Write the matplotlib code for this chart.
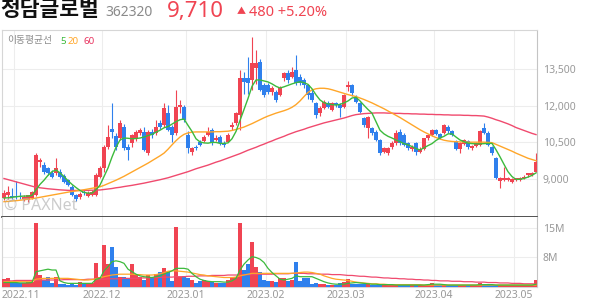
import matplotlib
matplotlib.use("Agg")
import matplotlib.pyplot as plt
import matplotlib.transforms as mtransforms
import numpy as np

plt.rcParams['font.family'] = ['Noto Sans', 'Noto Sans CJK KR', 'DejaVu Sans']

# daily candles (KRW), one trading day per entry, 2022-10-27 .. 2023-05-09
opens = [8210, 8340, 8300, 8300, 8300, 8180, 8140, 8210, 8340, 9710,
         9570, 9440, 9230, 9230, 9300, 9130, 8960, 8680, 8340, 8250,
         8480, 8300, 8340, 8340, 9100, 9440, 10330, 11040, 10750, 10670,
         11140, 10330, 10460, 10670, 10870, 10940, 10050, 10940, 10870, 11280,
         11210, 11700, 11140, 10870, 11960, 11960, 10800, 10120, 10330, 10530,
         10550, 10800, 11000, 10600, 10730, 10460, 10530, 11140, 11280, 11620,
         13130, 13130, 13060, 13540, 13810, 12850, 12850, 12580, 12580, 12440,
         13130, 13330, 13200, 13470, 13200, 13060, 12850, 12510, 12100, 11690,
         11900, 12100, 11830, 12100, 12030, 11960, 12780, 12850, 12370, 12100,
         11490, 11080, 11080, 10940, 10600, 10120, 10050, 10330, 10460, 10940,
         10800, 10460, 10230, 10460, 10120, 10250, 10670, 10800, 11000, 10850,
         10900, 11150, 10950, 10550, 10250, 10450, 10550, 10260, 10360, 10400,
         11100, 10900, 10300, 9850, 8900, 8950, 8960, 8890, 8950, 8960,
         9030, 9160, 9180, 9300]
highs = [8550, 8700, 8650, 8900, 8450, 8350, 8340, 8500, 10050, 9850,
         9700, 9500, 9350, 9850, 9400, 9200, 9000, 8750, 8400, 8450,
         8550, 8500, 8550, 9250, 9550, 10400, 11200, 12100, 10900, 11400,
         11250, 10450, 10850, 11000, 11100, 11150, 11000, 11050, 11420, 11400,
         12100, 12040, 11200, 12650, 12240, 12050, 10950, 10300, 10400, 10600,
         10800, 11140, 11100, 10800, 10800, 10550, 10900, 11350, 11750, 13450,
         13400, 14000, 14810, 14290, 13900, 12950, 12950, 12800, 12650, 12800,
         13400, 13450, 13600, 14080, 13300, 13150, 12900, 12650, 12150, 12000,
         12250, 12200, 12150, 12150, 12100, 12500, 13000, 12900, 12450, 12150,
         11550, 11600, 11150, 11000, 10650, 10300, 10300, 10550, 11000, 11050,
         10870, 10500, 10400, 10500, 10300, 10700, 10850, 11050, 11050, 10900,
         11250, 11200, 11000, 10600, 10500, 10650, 10600, 10400, 10500, 11000,
         11300, 10950, 10350, 9900, 9100, 9500, 9100, 9050, 9050, 9100,
         9150, 9250, 9280, 10060]
lows = [8140, 8200, 8200, 8200, 8200, 8100, 8070, 8180, 8300, 9500,
        9200, 9150, 9050, 9150, 9050, 8850, 8700, 8300, 8100, 8200,
        8350, 8250, 8300, 8300, 9050, 9300, 10250, 10670, 10190, 10600,
        10190, 9780, 10300, 10550, 10800, 10150, 10000, 10700, 10800, 11050,
        11150, 10950, 10500, 10800, 11700, 11350, 10050, 9980, 10200, 10350,
        10500, 10750, 10400, 10550, 10400, 10300, 10500, 11000, 11200, 11000,
        12500, 12500, 12650, 12900, 12600, 12350, 12500, 12450, 12150, 12400,
        13000, 12950, 13150, 12850, 12850, 12750, 12300, 12150, 11500, 11600,
        11850, 11900, 11800, 11950, 11550, 11900, 12600, 12400, 12100, 11700,
        11150, 10700, 10800, 10550, 10000, 10050, 9980, 10250, 10400, 10400,
        10350, 10200, 10150, 9980, 10050, 10200, 10600, 10750, 10800, 10650,
        10850, 10900, 10750, 10200, 10050, 10400, 10250, 10200, 10300, 10350,
        10850, 10350, 10000, 9000, 8620, 8900, 8900, 8850, 8900, 8920,
        9000, 9100, 9120, 9280]
closes = [8440, 8480, 8250, 8250, 8260, 8270, 8340, 8480, 9980, 9780,
          9300, 9230, 9100, 9440, 9100, 8890, 8750, 8340, 8180, 8380,
          8410, 8440, 8480, 9160, 9440, 10330, 10730, 10940, 10330, 11310,
          10260, 10190, 10800, 10940, 11010, 10190, 10940, 10800, 11140, 11140,
          11900, 11010, 10800, 11960, 12030, 11420, 10260, 10260, 10260, 10390,
          10730, 10940, 10460, 10700, 10460, 10400, 10800, 11210, 11690, 13130,
          12990, 12920, 13740, 13740, 12650, 12440, 12580, 12720, 12240, 12720,
          13330, 13060, 13400, 12920, 12920, 12850, 12440, 12240, 11620, 11900,
          12170, 11960, 12100, 12030, 11900, 12440, 12850, 12510, 12170, 11760,
          11210, 11550, 10870, 10600, 10050, 10260, 10260, 10460, 10870, 10460,
          10390, 10260, 10320, 10120, 10250, 10670, 10800, 11000, 10850, 10700,
          11200, 10950, 10800, 10250, 10460, 10600, 10300, 10350, 10460, 10950,
          10900, 10400, 10080, 9030, 9030, 9030, 9030, 9000, 9030, 9030,
          9100, 9230, 9230, 9710]

# moving averages as drawn on the chart
ma5 = [8220, 8230, 8250, 8270, 8290, 8300, 8300, 8330, 8560, 8780,
       8950, 9150, 9300, 9370, 9250, 9100, 8930, 8780, 8650, 8530,
       8450, 8420, 8420, 8560, 8750, 9100, 9450, 9900, 10300, 10600,
       10680, 10670, 10650, 10660, 10680, 10720, 10780, 10830, 10920, 11000,
       11100, 11150, 11250, 11350, 11430, 11460, 11200, 10950, 10650, 10520,
       10480, 10470, 10500, 10500, 10460, 10460, 10480, 10650, 10950, 11400,
       11850, 12300, 12800, 13060, 13060, 13020, 12980, 12900, 12800, 12730,
       12780, 12840, 12900, 12950, 12990, 12950, 12880, 12700, 12450, 12240,
       12130, 12080, 12050, 12030, 12060, 12120, 12200, 12320, 12350, 12200,
       12020, 11850, 11700, 11350, 11000, 10850, 10750, 10680, 10600, 10530,
       10450, 10400, 10330, 10250, 10190, 10280, 10370, 10450, 10580, 10680,
       10750, 10850, 10850, 10720, 10600, 10530, 10470, 10450, 10440, 10440,
       10450, 10460, 10460, 10200, 9910, 9600, 9300, 9100, 8980, 8990,
       9020, 9080, 9150, 9250]
ma20 = [8070, 8080, 8100, 8110, 8130, 8150, 8170, 8190, 8220,
        8250, 8280, 8310, 8340, 8370, 8400, 8430, 8460,
        8490, 8510, 8530, 8560, 8590, 8620, 8650, 8680,
        8740, 8810, 8880, 8950, 9030, 9110, 9200, 9290,
        9380, 9470, 9560, 9650, 9750, 9850, 9950, 10060,
        10220, 10400, 10570, 10720, 10830, 10890, 10920, 10930,
        10930, 10930, 10930, 10930, 10940, 10940, 10950, 10960,
        10990, 11030, 11080, 11130, 11200, 11270, 11350, 11430,
        11510, 11580, 11640, 11700, 11750, 11800, 11860, 11940,
        12050, 12200, 12380, 12550, 12650, 12700, 12720, 12720,
        12700, 12660, 12610, 12560, 12510, 12460, 12420, 12380,
        12320, 12260, 12190, 12120, 12040, 11960, 11880, 11790,
        11700, 11610, 11520, 11420, 11320, 11220, 11120, 11020,
        10930, 10850, 10770, 10700, 10640, 10590, 10560, 10540,
        10530, 10520, 10520, 10510, 10510, 10510, 10510, 10510,
        10500, 10490, 10420, 10350, 10280, 10210, 10140, 10060,
        9990, 9920, 9850, 9800, 9750]
ma60 = [9020, 8975, 8930, 8885, 8840, 8795, 8750, 8705, 8660,
        8640, 8620, 8600, 8585, 8570, 8555, 8545, 8535,
        8530, 8530, 8530, 8530, 8535, 8540, 8545, 8550,
        8570, 8590, 8610, 8640, 8660, 8690, 8715, 8740,
        8770, 8800, 8830, 8865, 8900, 8935, 8970, 9010,
        9050, 9100, 9150, 9200, 9250, 9300, 9360, 9420,
        9470, 9520, 9570, 9630, 9690, 9740, 9800, 9860,
        9920, 9980, 10040, 10110, 10180, 10240, 10300, 10370,
        10430, 10500, 10560, 10630, 10690, 10750, 10820, 10880,
        10940, 10990, 11040, 11100, 11150, 11200, 11250, 11300,
        11340, 11380, 11420, 11460, 11500, 11550, 11600, 11640,
        11660, 11680, 11690, 11700, 11710, 11710, 11710, 11700,
        11700, 11690, 11690, 11680, 11680, 11670, 11670, 11660,
        11660, 11650, 11650, 11640, 11640, 11630, 11630, 11620,
        11620, 11620, 11610, 11610, 11600, 11600, 11590, 11580,
        11540, 11490, 11430, 11380, 11320, 11260, 11190, 11110,
        11050, 10990, 10930, 10870, 10820]

# volume in millions of shares and its moving averages
volume = [2.8, 3.0, 2.2, 1.8, 1.8, 1.8, 2.2, 2.2, 16.2, 3.8,
          2.6, 3.4, 1.8, 3.4, 1.6, 1.6, 1.4, 1.8, 1.4, 2.2,
          1.8, 1.8, 2.0, 6.6, 3.4, 11.0, 6.4, 10.6, 5.8, 3.4,
          3.4, 3.0, 6.4, 3.8, 3.4, 2.6, 3.8, 3.0, 4.0, 4.6,
          5.6, 4.6, 2.4, 15.4, 3.4, 3.6, 3.2, 2.6, 1.8, 2.4,
          2.6, 2.4, 2.2, 2.0, 1.8, 1.8, 2.6, 3.4, 3.4, 16.2,
          5.0, 6.4, 11.8, 5.8, 4.6, 2.6, 2.4, 2.4, 2.2, 3.2,
          3.2, 2.4, 2.6, 7.0, 2.4, 3.0, 3.2, 1.7, 1.9, 1.6,
          1.6, 1.5, 1.5, 1.5, 1.8, 2.2, 2.8, 1.7, 1.7, 1.7,
          1.7, 1.7, 1.5, 1.5, 1.5, 1.5, 1.5, 1.4, 1.3, 1.3,
          1.3, 1.3, 1.3, 1.3, 1.3, 1.3, 1.3, 1.8, 1.3, 1.3,
          1.3, 1.3, 1.3, 1.3, 1.3, 1.3, 1.3, 1.3, 1.3, 1.8,
          1.5, 1.3, 1.3, 1.5, 1.4, 1.3, 1.3, 1.3, 1.3, 1.3,
          1.3, 1.3, 1.3, 2.6]
vol_ma5 = [2.0, 2.0, 2.0, 2.0, 1.9, 1.9, 1.9, 2.0, 4.6, 4.8,
           5.0, 5.2, 5.0, 5.0, 2.4, 2.0, 1.8, 1.8, 1.8, 1.8,
           1.8, 1.8, 1.8, 2.8, 3.0, 4.8, 5.8, 7.0, 7.2, 7.0,
           6.6, 5.2, 4.6, 4.0, 3.6, 3.4, 3.3, 3.2, 3.4, 3.6,
           4.0, 4.4, 4.8, 5.4, 5.4, 5.4, 5.2, 4.2, 3.4, 2.8,
           2.5, 2.3, 2.2, 2.2, 2.2, 2.1, 2.1, 2.4, 3.0, 5.0,
           6.4, 7.4, 8.2, 8.0, 7.6, 6.8, 5.4, 4.4, 3.6, 2.8,
           2.6, 2.8, 3.0, 3.6, 3.4, 3.4, 3.4, 3.4, 3.0, 2.6,
           2.2, 1.9, 1.7, 1.6, 1.6, 1.6, 1.8, 1.9, 2.0, 1.9,
           1.8, 1.7, 1.6, 1.6, 1.5, 1.5, 1.5, 1.5, 1.4, 1.4,
           1.4, 1.4, 1.4, 1.4, 1.4, 1.4, 1.5, 1.6, 1.6, 1.6,
           1.5, 1.4, 1.4, 1.4, 1.4, 1.4, 1.4, 1.4, 1.4, 1.5,
           1.5, 1.5, 1.5, 1.4, 1.4, 1.4, 1.4, 1.4, 1.4, 1.4,
           1.4, 1.4, 1.4, 1.6]
vol_ma20 = [2.2, 2.2, 2.2, 2.2, 2.2, 2.2, 2.2, 2.2, 2.8, 2.9,
            3.0, 3.0, 3.0, 3.0, 3.0, 3.0, 3.0, 2.9, 2.8, 2.7,
            2.6, 2.6, 2.7, 2.9, 3.1, 3.4, 3.6, 3.8, 3.9, 4.0,
            4.0, 4.0, 4.0, 3.9, 3.9, 3.8, 3.8, 3.8, 3.9, 4.1,
            4.4, 4.7, 4.8, 4.8, 4.7, 4.6, 4.5, 4.3, 4.1, 3.9,
            3.8, 3.6, 3.5, 3.4, 3.3, 3.2, 3.2, 3.2, 3.3, 3.6,
            3.8, 4.0, 4.2, 4.2, 4.2, 4.2, 4.2, 4.2, 4.2, 4.2,
            4.2, 4.2, 4.2, 4.3, 4.4, 4.5, 4.5, 4.4, 4.2, 4.0,
            3.6, 3.3, 3.0, 2.8, 2.7, 2.6, 2.5, 2.3, 2.1, 2.0,
            1.9, 1.8, 1.7, 1.7, 1.6, 1.6, 1.5, 1.5, 1.5, 1.5,
            1.5, 1.5, 1.5, 1.5, 1.5, 1.4, 1.4, 1.4, 1.4, 1.4,
            1.4, 1.4, 1.4, 1.4, 1.4, 1.4, 1.4, 1.4, 1.4, 1.4,
            1.4, 1.4, 1.4, 1.4, 1.4, 1.4, 1.4, 1.4, 1.4, 1.4,
            1.4, 1.4, 1.4, 1.4]
vol_ma60 = [2.4, 2.4, 2.4, 2.5, 2.5, 2.5, 2.5, 2.5, 2.5, 2.6,
            2.6, 2.6, 2.6, 2.6, 2.6, 2.7, 2.7, 2.7, 2.7, 2.7,
            2.7, 2.8, 2.8, 2.8, 2.8, 2.8, 2.9, 2.9, 2.9, 2.9,
            3.0, 3.0, 3.0, 3.0, 3.1, 3.1, 3.1, 3.2, 3.2, 3.2,
            3.3, 3.3, 3.3, 3.4, 3.4, 3.4, 3.5, 3.5, 3.5, 3.6,
            3.6, 3.6, 3.7, 3.7, 3.7, 3.7, 3.8, 3.8, 3.8, 3.8,
            3.9, 3.9, 3.9, 3.9, 4.0, 4.0, 4.0, 4.0, 4.1, 4.1,
            4.1, 4.1, 4.2, 4.2, 4.2, 4.2, 4.1, 4.1, 4.1, 4.0,
            4.0, 4.0, 3.9, 3.9, 3.9, 3.8, 3.7, 3.7, 3.6, 3.5,
            3.5, 3.4, 3.3, 3.3, 3.2, 3.1, 3.1, 3.0, 3.0, 2.9,
            2.9, 2.8, 2.8, 2.7, 2.7, 2.6, 2.6, 2.5, 2.5, 2.4,
            2.4, 2.4, 2.3, 2.3, 2.3, 2.2, 2.2, 2.2, 2.1, 2.1,
            2.1, 2.0, 2.0, 2.0, 1.9, 1.9, 1.9, 1.8, 1.8, 1.8,
            1.7, 1.7, 1.7, 1.65]

month_labels = ['2022.11', '2022.12', '2023.01', '2023.02', '2023.03', '2023.04', '2023.05']
month_first_day = [3, 25, 46, 66, 86, 108, 128]
price_ticks = [9000, 10500, 12000, 13500]
volume_ticks = [8, 15]

RED = '#f04452'
BLUE = '#2f80ed'
C5, C20, C60 = '#3cba3c', '#ffa629', '#f04a6e'
GRID = '#ededed'
LABEL = '#999999'

o = np.array(opens)
h = np.array(highs)
l = np.array(lows)
c = np.array(closes)
days = np.arange(len(c))
colors = np.where(c >= o, RED, BLUE)
month_pos = np.array(month_first_day) - 0.5

W, H = 594, 304
fig = plt.figure(figsize=(W / 100, H / 100), dpi=100)
ax = fig.add_axes([2 / W, 1 - 217 / H, 535 / W, 187 / H])
axv = fig.add_axes([2 / W, 1 - 287 / H, 535 / W, 70 / H], sharex=ax)

# price panel
ax.vlines(days, l, h, colors=colors, linewidth=0.8, zorder=2)
body = np.maximum(np.abs(c - o), 30)
ax.bar(days, body, bottom=np.minimum(o, c), width=0.8, color=colors, linewidth=0, zorder=3)
ax.plot(days, ma60, color=C60, lw=1.0, zorder=4)
ax.plot(days, ma20, color=C20, lw=1.0, zorder=4)
ax.plot(days, ma5, color=C5, lw=1.0, zorder=5)
ax.set_ylim(7442, 15109)
ax.set_xlim(-0.5, 133.25)
ax.set_yticks(price_ticks)
ax.set_yticklabels([f'{t:,}' for t in price_ticks])

# volume panel
axv.bar(days, volume, width=0.8, color=colors, linewidth=0, zorder=3)
axv.plot(days, vol_ma60, color=C60, lw=0.9, zorder=4)
axv.plot(days, vol_ma20, color=C20, lw=0.9, zorder=4)
axv.plot(days, vol_ma5, color=C5, lw=0.9, zorder=5)
axv.set_ylim(0.93, 17.7)
axv.set_yticks(volume_ticks)
axv.set_yticklabels([f'{t}M' for t in volume_ticks])

for a in (ax, axv):
    a.set_xticks(month_pos)
    a.grid(True, color=GRID, lw=0.8, zorder=0)
    a.set_axisbelow(True)
    a.tick_params(axis='x', length=0, labelbottom=False)
    a.tick_params(axis='y', left=False, labelleft=False, right=True, labelright=True,
                  length=0, pad=4, labelsize=7.5, labelcolor=LABEL)
    a.spines['left'].set_color('#d6d6d6')
    a.spines['right'].set_color('#c4c4c4')
    a.spines['top'].set_color('#d6d6d6')
    a.spines['bottom'].set_color('#d6d6d6')
ax.spines['bottom'].set_color('#333333')
ax.spines['bottom'].set_linewidth(1.2)
axv.spines['top'].set_visible(False)

# month labels under the volume panel
trans = mtransforms.blended_transform_factory(axv.transData, axv.transAxes)
for i, (pos, lab) in enumerate(zip(month_pos, month_labels)):
    if i == 0:
        axv.text(-0.5, -0.115, lab, transform=trans, ha='left', va='center',
                 fontsize=7.5, color=LABEL)
    else:
        axv.text(pos, -0.115, lab, transform=trans, ha='center', va='center',
                 fontsize=7.5, color=LABEL)

# header
def fx(px):
    return px / W

def fy(py):
    return 1 - py / H

fig.text(fx(0), fy(11), '청담글로벌', fontsize=15.5, fontweight='bold', color='#111111', va='center')
fig.text(fx(105), fy(12), '362320', fontsize=10, color='#8a8a8a', va='center')
fig.text(fx(167), fy(11), '9,710', fontsize=16, color=RED, va='center')
fig.text(fx(237), fy(12), '▲', fontsize=6.5, color=RED, va='center')
fig.text(fx(249), fy(12), '480 +5.20%', fontsize=10.5, color=RED, va='center')

# moving average legend
fig.text(fx(7), fy(41), '이동평균선', fontsize=7, color='#8c8c8c', va='center')
fig.text(fx(60), fy(41), '5', fontsize=7, color=C5, va='center', fontweight='semibold')
fig.text(fx(68), fy(41), '20', fontsize=7, color=C20, va='center', fontweight='semibold')
fig.text(fx(83), fy(41), '60', fontsize=7, color='#e8335f', va='center', fontweight='semibold')

# watermark
fig.text(fx(4), fy(206), '© PAXNet', fontsize=11.5, fontweight='bold', color='#aaaaaa',
         alpha=0.6, va='center')

fig.savefig('out.png', dpi=100)
